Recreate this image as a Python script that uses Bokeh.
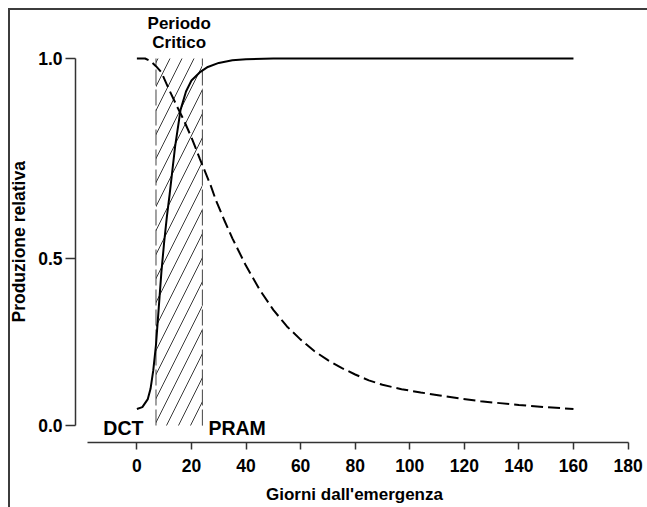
from bokeh.plotting import figure
from bokeh.models import Label, FixedTicker, Title
from bokeh.embed import file_html
from bokeh.resources import INLINE

# --- data ---
days_weedfree = [0, 2, 4, 5, 6, 7, 8, 9, 10, 11, 12, 14, 16, 18, 20, 23, 26, 30, 35, 40, 50, 60, 80, 100, 120, 140, 160]
yield_weedfree = [0.045, 0.050, 0.072, 0.10, 0.15, 0.22, 0.32, 0.42, 0.50, 0.57, 0.63, 0.76, 0.86, 0.91, 0.94, 0.962, 0.977, 0.988, 0.995, 0.998, 1.0, 1.0, 1.0, 1.0, 1.0, 1.0, 1.0]

days_weedy = [0, 3, 5, 7, 9, 12, 15, 17, 20, 23, 27, 29, 32, 35, 40, 45, 50, 55, 60, 65, 70, 75, 80, 85, 90, 97, 104, 111, 118, 126, 133, 140, 150, 160]
yield_weedy = [1.0, 1.0, 0.993, 0.979, 0.962, 0.912, 0.865, 0.835, 0.785, 0.728, 0.655, 0.613, 0.56, 0.51, 0.435, 0.37, 0.315, 0.27, 0.234, 0.203, 0.178, 0.157, 0.139, 0.123, 0.111, 0.099, 0.09, 0.082, 0.074, 0.066, 0.061, 0.056, 0.05, 0.045]

critical_period = [7, 24]

x_ticks = [0, 20, 40, 60, 80, 100, 120, 140, 160, 180]
y_ticks = [0.0, 0.455, 1.0]
y_tick_labels = ["0.0", "0.5", "1.0"]

FONT = "Liberation Sans"
EDGE = "#3c3c3c"

p = figure(width=647, height=507, x_range=(-22.5, 182.0), y_range=(-0.0463, 1.1308),
           output_backend="svg", toolbar_location=None,
           min_border_left=75, min_border_right=14, min_border_top=10, min_border_bottom=65)
p.outline_line_color = None
p.xgrid.visible = False
p.ygrid.visible = False
p.border_fill_color = None
p.background_fill_color = "white"
p.styles = {
    "background-color": "white",
    "background-image": f"linear-gradient({EDGE}, {EDGE}), linear-gradient({EDGE}, {EDGE})",
    "background-size": "100% 2px, 2px 100%",
    "background-position": "8px 8px, 8px 8px",
    "background-repeat": "no-repeat",
}

# x axis
xa = p.xaxis[0]
xa.ticker = FixedTicker(ticks=x_ticks)
xa.bounds = (-18, 180)
xa.axis_line_color = "#333333"
xa.axis_line_width = 1.5
xa.major_tick_line_color = "#333333"
xa.major_tick_line_width = 1.5
xa.major_tick_out = 7
xa.major_tick_in = 0
xa.minor_tick_line_color = None
xa.major_label_text_font = FONT
xa.major_label_text_font_style = "bold"
xa.major_label_text_font_size = "17.5px"
xa.major_label_text_color = "black"
xa.major_label_standoff = 9
xa.axis_label = "Giorni dall'emergenza"
xa.axis_label_text_font = FONT
xa.axis_label_text_font_style = "bold"
xa.axis_label_text_font_size = "17px"
xa.axis_label_text_color = "black"
xa.axis_label_standoff = 10

# y axis
ya = p.yaxis[0]
ya.ticker = FixedTicker(ticks=y_ticks)
ya.major_label_overrides = {t: l for t, l in zip(y_ticks, y_tick_labels)}
ya.bounds = (0, 1)
ya.axis_line_color = "#333333"
ya.axis_line_width = 1.5
ya.major_tick_line_color = "#333333"
ya.major_tick_line_width = 1.5
ya.major_tick_out = 10
ya.major_tick_in = 0
ya.minor_tick_line_color = None
ya.major_label_text_font = FONT
ya.major_label_text_font_style = "bold"
ya.major_label_text_font_size = "17.5px"
ya.major_label_text_color = "black"
ya.major_label_standoff = 3

p.add_layout(Title(text="Produzione relativa", align="left", offset=120,
                   text_font=FONT, text_font_style="bold", text_font_size="17.5px",
                   text_color="black", standoff=13), "left")

# critical period hatched band
p.quad(left=[critical_period[0]], right=[critical_period[1]], bottom=[0], top=[1],
       fill_color=None, line_color=None, hatch_pattern="/", hatch_color="#3a3a3a",
       hatch_scale=24, hatch_weight=1)
p.segment(x0=critical_period, y0=[0, 0], x1=critical_period, y1=[1, 1],
          line_color="#444444", line_width=1, line_dash="16 4")

# curves
p.line(days_weedfree, yield_weedfree, line_color="black", line_width=2)
p.line(days_weedy, yield_weedy, line_color="black", line_width=2, line_dash="12 5")

mid = (critical_period[0] + critical_period[1]) / 2
for txt, yy in [("Periodo", 1.096), ("Critico", 1.044)]:
    p.add_layout(Label(x=mid, y=yy, text=txt, text_align="center", text_baseline="alphabetic",
                       text_font=FONT, text_font_style="bold", text_font_size="17px",
                       text_color="black"))
p.add_layout(Label(x=-12.3, y=-0.006, text="DCT", text_align="left", text_baseline="alphabetic",
                   text_font=FONT, text_font_style="bold", text_font_size="19.5px", text_color="black"))
p.add_layout(Label(x=26.2, y=-0.006, text="PRAM", text_align="left", text_baseline="alphabetic",
                   text_font=FONT, text_font_style="bold", text_font_size="19.5px", text_color="black"))

open("out.html", "w").write(file_html(p, INLINE))
